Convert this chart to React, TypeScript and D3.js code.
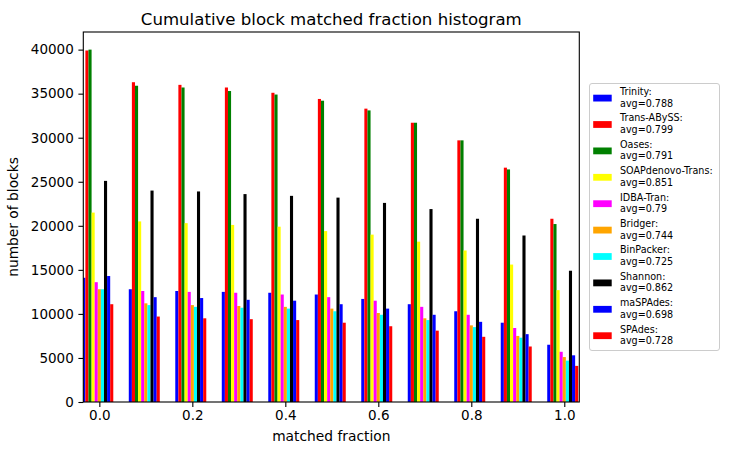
import { useEffect, useRef } from 'react';
import * as d3 from 'd3';

const FRACTIONS = [0, 0.1, 0.2, 0.3, 0.4, 0.5, 0.6, 0.7, 0.8, 0.9, 1.0];
const X_TICKS = [0, 0.2, 0.4, 0.6, 0.8, 1.0];
const Y_TICKS = [0, 5000, 10000, 15000, 20000, 25000, 30000, 35000, 40000];

const TRINITY = [14100, 12800, 12600, 12500, 12400, 12200, 11700, 11100, 10300, 9000, 6500];
const TRANS_ABYSS = [39900, 36300, 36000, 35700, 35100, 34400, 33300, 31700, 29700, 26600, 20800];
const OASES = [40000, 35900, 35700, 35300, 34900, 34200, 33100, 31700, 29700, 26400, 20200];
const SOAP = [21500, 20500, 20300, 20100, 19900, 19400, 19000, 18200, 17200, 15600, 12700];
const IDBA = [13600, 12600, 12500, 12400, 12200, 11900, 11500, 10800, 9900, 8400, 5700];
const BRIDGER = [12800, 11200, 11000, 10900, 10800, 10600, 10100, 9500, 8700, 7500, 5100];
const BINPACKER = [12800, 11000, 10800, 10700, 10600, 10300, 9900, 9300, 8500, 7300, 4700];
const SHANNON = [25100, 24000, 23900, 23600, 23400, 23200, 22600, 21900, 20800, 18900, 14900];
const MASPADES = [14300, 11900, 11800, 11600, 11500, 11100, 10600, 9900, 9100, 7700, 5300];
const SPADES = [11100, 9700, 9500, 9400, 9300, 9000, 8600, 8100, 7400, 6300, 4100];

const SERIES = [
  { name: 'Trinity', avg: '0.788', color: '#0000ff', values: TRINITY },
  { name: 'Trans-ABySS', avg: '0.799', color: '#ff0000', values: TRANS_ABYSS },
  { name: 'Oases', avg: '0.791', color: '#008000', values: OASES },
  { name: 'SOAPdenovo-Trans', avg: '0.851', color: '#ffff00', values: SOAP },
  { name: 'IDBA-Tran', avg: '0.79', color: '#ff00ff', values: IDBA },
  { name: 'Bridger', avg: '0.744', color: '#ffa500', values: BRIDGER },
  { name: 'BinPacker', avg: '0.725', color: '#00ffff', values: BINPACKER },
  { name: 'Shannon', avg: '0.862', color: '#000000', values: SHANNON },
  { name: 'maSPAdes', avg: '0.698', color: '#0000ff', values: MASPADES },
  { name: 'SPAdes', avg: '0.728', color: '#ff0000', values: SPADES },
];

const W = 729;
const H = 455;
const FONT = '"DejaVu Sans", sans-serif';

export default function App() {
  const svgRef = useRef<SVGSVGElement>(null);

  useEffect(() => {
    const svgEl = svgRef.current;
    if (!svgEl) return;
    const svg = d3.select(svgEl);
    svg.selectAll('*').remove();

    const plot = { left: 83.3, right: 579.3, top: 32, bottom: 402 };
    const barW = 1 / 150;
    const x = d3.scaleLinear().domain([-0.0345, 1.0323]).range([plot.left, plot.right]);
    const y = d3.scaleLinear().domain([0, 42000]).range([plot.bottom, plot.top]);

    svg.append('defs').append('clipPath').attr('id', 'plot-clip')
      .append('rect').attr('x', plot.left).attr('y', plot.top)
      .attr('width', plot.right - plot.left).attr('height', plot.bottom - plot.top);

    // Bars, 10 per group, centred at fraction + (i - 5) * barW
    const bars = svg.append('g').attr('clip-path', 'url(#plot-clip)');
    SERIES.forEach((s, i) => {
      bars.selectAll(null).data(s.values).join('rect')
        .attr('x', (_, j) => x(FRACTIONS[j] + (i - 5.5) * barW))
        .attr('width', x(barW) - x(0))
        .attr('y', (v) => y(v))
        .attr('height', (v) => y(0) - y(v))
        .attr('fill', s.color);
    });

    // Frame
    svg.append('rect').attr('x', plot.left).attr('y', plot.top)
      .attr('width', plot.right - plot.left).attr('height', plot.bottom - plot.top)
      .attr('fill', 'none').attr('stroke', '#000').attr('stroke-width', 1.1);

    // X axis
    const xAxis = svg.append('g').attr('transform', `translate(0,${plot.bottom})`)
      .call(d3.axisBottom(x).tickValues(X_TICKS).tickFormat((d) => (d as number).toFixed(1))
        .tickSize(4.9).tickPadding(4));
    xAxis.select('.domain').remove();
    xAxis.selectAll('line').attr('stroke-width', 1.1);
    xAxis.selectAll('text').attr('font-size', 13.5).attr('font-family', FONT).attr('fill', '#000');

    // Y axis
    const yAxis = svg.append('g').attr('transform', `translate(${plot.left},0)`)
      .call(d3.axisLeft(y).tickValues(Y_TICKS).tickFormat((d) => String(d)).tickSize(4.9).tickPadding(4.6));
    yAxis.select('.domain').remove();
    yAxis.selectAll('line').attr('stroke-width', 1.1);
    yAxis.selectAll('text').attr('font-size', 13.5).attr('font-family', FONT).attr('fill', '#000');

    // Title and labels
    const mid = (plot.left + plot.right) / 2;
    svg.append('text').attr('x', mid).attr('y', 25).attr('text-anchor', 'middle')
      .attr('font-size', 16.6).attr('font-family', FONT).text('Cumulative block matched fraction histogram');
    svg.append('text').attr('x', mid).attr('y', 441).attr('text-anchor', 'middle')
      .attr('font-size', 13.8).attr('font-family', FONT).text('matched fraction');
    svg.append('text').attr('transform', `translate(18.3,${(plot.top + plot.bottom) / 2}) rotate(-90)`)
      .attr('text-anchor', 'middle').attr('font-size', 13.8).attr('font-family', FONT).text('number of blocks');

    // Legend
    const legend = svg.append('g').attr('transform', 'translate(589.5,83.5)');
    legend.append('rect').attr('width', 130).attr('height', 267).attr('rx', 2.5)
      .attr('fill', '#fff').attr('fill-opacity', 0.8).attr('stroke', '#cccccc').attr('stroke-width', 1);
    const items = legend.selectAll('.legend-item').data(SERIES).join('g')
      .attr('class', 'legend-item')
      .attr('transform', (_, i) => `translate(0,${i * 26.4})`);
    items.append('rect').attr('x', 3.7).attr('y', 11.2).attr('width', 18.5).attr('height', 6.8)
      .attr('fill', (d) => d.color);
    items.append('text').attr('x', 30.5).attr('y', 11.5).attr('font-size', 9.6).attr('font-family', FONT)
      .text((d) => `${d.name}:`);
    items.append('text').attr('x', 30.5).attr('y', 23.2).attr('font-size', 9.6).attr('font-family', FONT)
      .text((d) => `avg=${d.avg}`);
  }, []);

  return (
    <div style={{ position: 'absolute', left: 0, top: 0 }}>
      <svg ref={svgRef} width={W} height={H} style={{ display: 'block', background: '#fff' }} />
    </div>
  );
}
